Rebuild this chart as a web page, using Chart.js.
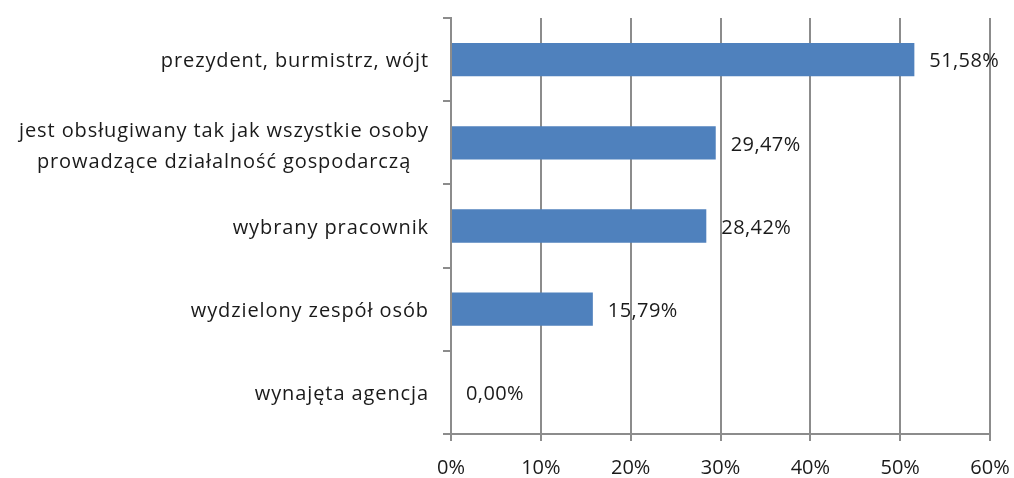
<!DOCTYPE html>
<html>
<head>
<meta charset="utf-8">
<script src="https://cdn.jsdelivr.net/npm/chart.js@4"></script>
<style>
  body { margin: 0; background: #fff; }
  #wrap { width: 1014px; height: 478px; }
</style>
</head>
<body>
<div id="wrap"><canvas id="bars"></canvas></div>
<script>
const categories = [
  ['prezydent, burmistrz, wójt'],
  ['jest obsługiwany tak jak wszystkie osoby', 'prowadzące działalność gospodarczą'],
  ['wybrany pracownik'],
  ['wydzielony zespół osób'],
  ['wynajęta agencja']
];
const values = [51.58, 29.47, 28.42, 15.79, 0.00];
const xTicks = [0, 10, 20, 30, 40, 50, 60];

const FONT = '"Open Sans", sans-serif';
const gridColor = '#8c8c8c';
const textColor = '#1a1a1a';

// category labels: single lines right aligned, the two-line one centred on itself
const labelPlugin = {
  id: 'catLabels',
  afterDraw(chart) {
    const ctx = chart.ctx;
    const y = chart.scales.y;
    const right = y.right - 22;
    ctx.save();
    ctx.font = '20px ' + FONT;
    ctx.letterSpacing = '0.9px';
    ctx.fillStyle = textColor;
    ctx.textBaseline = 'middle';
    categories.forEach((lines, i) => {
      const cy = y.getPixelForTick(i);
      const widest = Math.max(...lines.map(l => ctx.measureText(l).width));
      const lh = 31;
      lines.forEach((l, j) => {
        const ly = cy + (lines.length > 1 ? 4 : 2) + (j - (lines.length - 1) / 2) * lh;
        if (lines.length > 1) {
          ctx.textAlign = 'center';
          ctx.fillText(l, right - widest / 2, ly);
        } else {
          ctx.textAlign = 'right';
          ctx.fillText(l, right, ly);
        }
      });
    });
    ctx.restore();
  }
};

const valuePlugin = {
  id: 'valueLabels',
  afterDatasetsDraw(chart) {
    const ctx = chart.ctx;
    const meta = chart.getDatasetMeta(0);
    ctx.save();
    ctx.font = '20px ' + FONT;
    ctx.letterSpacing = '0.4px';
    ctx.fillStyle = textColor;
    ctx.textAlign = 'left';
    ctx.textBaseline = 'middle';
    meta.data.forEach((bar, i) => {
      const txt = values[i].toFixed(2).replace('.', ',') + '%';
      ctx.fillText(txt, bar.x + 15, bar.y + 2);
    });
    ctx.restore();
  }
};

new Chart(document.getElementById('bars').getContext('2d'), {
  type: 'bar',
  data: {
    labels: categories,
    datasets: [{
      data: values,
      backgroundColor: '#4f81bd',
      borderWidth: 0,
      barPercentage: 0.8,
      categoryPercentage: 0.5
    }]
  },
  options: {
    indexAxis: 'y',
    responsive: true,
    maintainAspectRatio: false,
    animation: false,
    layout: { padding: { left: 443, right: 24, top: 18, bottom: -17 } },
    plugins: { legend: { display: false }, tooltip: { enabled: false } },
    scales: {
      x: {
        min: 0,
        max: 60,
        afterBuildTicks(scale) { scale.ticks = xTicks.map(v => ({ value: v })); },
        afterFit(scale) { scale.paddingLeft = 0; scale.paddingRight = 0; },
        ticks: {
          callback: v => v + '%',
          font: { family: FONT, size: 20 },
          color: textColor,
          padding: 15
        },
        grid: { color: gridColor, lineWidth: 2, tickLength: 7 },
        border: { color: gridColor, width: 2 }
      },
      y: {
        ticks: { display: false },
        grid: { drawOnChartArea: false, color: gridColor, lineWidth: 2, tickLength: 8 },
        border: { color: gridColor, width: 2 }
      }
    }
  },
  plugins: [labelPlugin, valuePlugin]
});
</script>
</body>
</html>
